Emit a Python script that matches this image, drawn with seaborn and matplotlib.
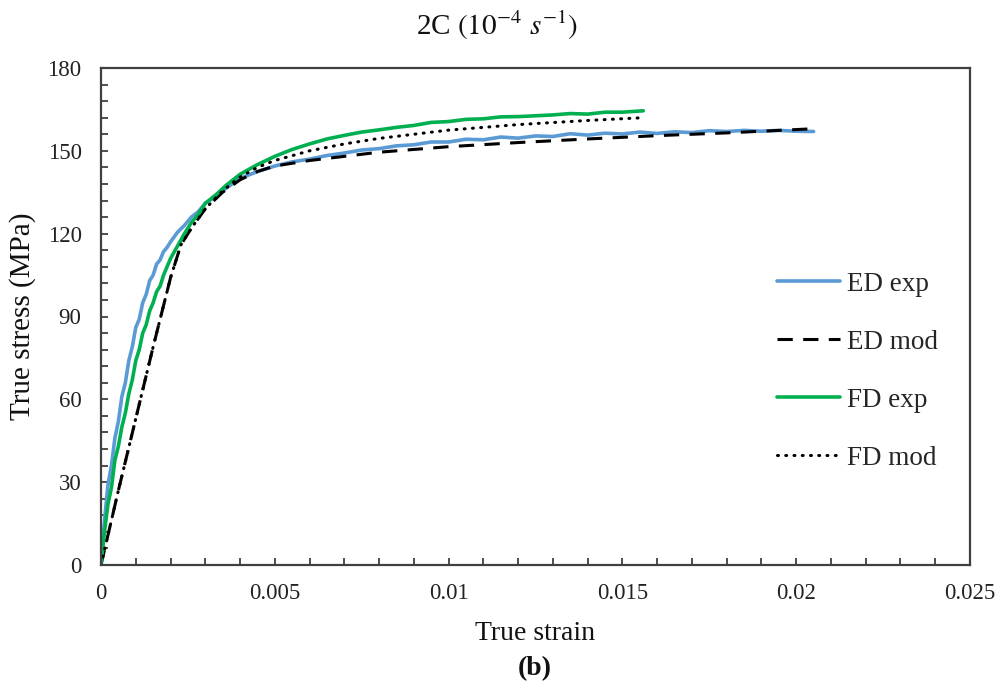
import numpy as np
import pandas as pd
import matplotlib
matplotlib.use("Agg")
import matplotlib.pyplot as plt
from matplotlib.ticker import MultipleLocator, FuncFormatter
import seaborn as sns

# ---------------- data ----------------
ed_exp_x = [0, 0.0001, 0.0002, 0.0003, 0.0004, 0.0005, 0.0006, 0.0007, 0.0008, 0.0009,
            0.001, 0.0011, 0.0012, 0.0013, 0.0014, 0.0015, 0.0016, 0.0017, 0.0018, 0.0019,
            0.002, 0.0022, 0.0024, 0.0026, 0.0028, 0.003, 0.0033, 0.0036, 0.004, 0.0045,
            0.005, 0.0055, 0.006, 0.0065, 0.007, 0.0075, 0.008, 0.0085, 0.009, 0.0095,
            0.010, 0.0105, 0.011, 0.0115, 0.012, 0.0125, 0.013, 0.0135, 0.014, 0.0145,
            0.015, 0.0155, 0.016, 0.0165, 0.017, 0.0175, 0.018, 0.0185, 0.019, 0.0195,
            0.020, 0.0205]
ed_exp_y = [0, 16, 29, 36, 46, 52, 61, 66, 74, 79,
            86, 89, 95, 98, 103, 105, 109, 110.5, 113.5, 115,
            117, 120.5, 123, 126, 128, 131, 133.5, 136.5, 140, 142.5,
            144.5, 146, 147, 148.3, 149.2, 150.3, 150.8, 151.8, 152.2, 153.2,
            153.2, 154.2, 154, 155, 154.6, 155.4, 155.2, 156.2, 155.7, 156.4,
            156.1, 156.8, 156.3, 156.9, 156.6, 157.3, 157, 157.4, 157.1, 157.4,
            157.1, 157]

fd_exp_x = [0, 0.0001, 0.0002, 0.0003, 0.0004, 0.0005, 0.0006, 0.0007, 0.0008, 0.0009,
            0.001, 0.0011, 0.0012, 0.0013, 0.0014, 0.0015, 0.0016, 0.0017, 0.0018, 0.0019,
            0.002, 0.0022, 0.0024, 0.0026, 0.0028, 0.003, 0.0033, 0.0036, 0.004, 0.0045,
            0.005, 0.0055, 0.006, 0.0065, 0.007, 0.0075, 0.008, 0.0085, 0.009, 0.0095,
            0.010, 0.0105, 0.011, 0.0115, 0.012, 0.0125, 0.013, 0.0135, 0.014, 0.0145,
            0.015, 0.0156]
fd_exp_y = [0, 12, 22, 28, 38, 43, 50, 55, 62, 67,
            74, 78, 84, 87, 92, 95, 99, 101, 105, 108,
            111, 115.5, 120, 124, 127, 131, 134, 137.5, 141.5, 145,
            148, 150.5, 152.5, 154.3, 155.6, 156.8, 157.6, 158.5, 159.2, 160.3,
            160.6, 161.4, 161.6, 162.3, 162.4, 162.7, 163, 163.5, 163.3, 164,
            164, 164.5]

ed_mod_x = [0, 0.0005, 0.001, 0.0015, 0.002, 0.0023, 0.0026, 0.003, 0.0035, 0.004,
            0.0045, 0.005, 0.006, 0.007, 0.008, 0.009, 0.010, 0.012, 0.014, 0.016,
            0.018, 0.0205]
ed_mod_y = [0, 27, 53, 79, 104, 116, 122, 129, 135, 139.5,
            142.5, 144.5, 146.5, 148, 149.5, 150.5, 151.5, 153, 154.3, 155.5,
            156.5, 158]

fd_mod_x = [0, 0.0005, 0.001, 0.0015, 0.002, 0.0023, 0.0026, 0.003, 0.0035, 0.004,
            0.0045, 0.005, 0.006, 0.007, 0.008, 0.009, 0.010, 0.012, 0.014, 0.0156]
fd_mod_y = [0, 27, 53, 79, 104, 116, 122, 129, 135.5, 140.5,
            144, 146.5, 150, 152.5, 154.5, 156, 157.5, 159.5, 161, 162]

series_names = ["ED exp", "ED mod", "FD exp", "FD mod"]
x_ticks = [0, 0.005, 0.01, 0.015, 0.02, 0.025]
y_ticks = [0, 30, 60, 90, 120, 150, 180]

# ---------------- style ----------------
sns.set_theme(style="ticks")
plt.rcParams["font.family"] = ["Liberation Serif", "DejaVu Serif"]
plt.rcParams["mathtext.fontset"] = "stix"

W, H = 1001, 685
L, R, T, B = 101, 970, 68, 565
fig = plt.figure(figsize=(W / 100, H / 100), dpi=100)
ax = fig.add_axes([L / W, 1 - B / H, (R - L) / W, (B - T) / H])

sns.lineplot(x=ed_exp_x, y=ed_exp_y, ax=ax, color="#5b9bd5", lw=2.6, sort=False,
             label=series_names[0])
sns.lineplot(x=ed_mod_x, y=ed_mod_y, ax=ax, color="black", lw=2.2, sort=False,
             label=series_names[1])
sns.lineplot(x=fd_exp_x, y=fd_exp_y, ax=ax, color="#00b050", lw=2.6, sort=False,
             label=series_names[2])
sns.lineplot(x=fd_mod_x, y=fd_mod_y, ax=ax, color="black", lw=2.2, sort=False,
             label=series_names[3])
lines = ax.get_lines()
lines[1].set_dashes([5, 3.4])
lines[3].set_dashes([0.3, 2.4])
lines[3].set_dash_capstyle("round")

ax.set_xlim(0, 0.025)
ax.set_ylim(0, 180)
ax.set_xticks(x_ticks)
ax.set_yticks(y_ticks)
ax.xaxis.set_minor_locator(MultipleLocator(0.001))
ax.yaxis.set_minor_locator(MultipleLocator(6))
ax.xaxis.set_major_formatter(FuncFormatter(lambda v, p: "0" if v == 0 else ("%g" % v)))
ax.tick_params(which="both", direction="in", length=5, width=1.3, color="#404040",
               labelsize=16.5, labelcolor="#222222")
ax.tick_params(axis="x", which="both", pad=13)
ax.tick_params(axis="y", which="both", pad=14)
for s in ax.spines.values():
    s.set_color("#404040")
    s.set_linewidth(1.6)

ax.set_xlabel("True strain", fontsize=20, color="#111111")
ax.set_ylabel("True stress (MPa)", fontsize=21, color="#111111")
ax.xaxis.label.set_va("center")
ax.yaxis.label.set_va("center")
ax.xaxis.set_label_coords(0.5, -(633 - B) / (B - T))
ax.yaxis.set_label_coords(-(L - 23) / (R - L), 0.5)

fig.text(497 / W, 1 - 25 / H, r"2C $(10^{-4}\ s^{-1})$", ha="center", va="center",
         fontsize=21, color="#111111")
fig.text(535 / W, 1 - 669 / H, "(b)", ha="center", va="center", fontsize=20,
         fontweight="bold", color="#111111")

ax.legend(loc="upper left", bbox_to_anchor=((766 - L) / (R - L), (565 - 261) / (B - T)),
          borderaxespad=0, frameon=False, fontsize=19.5,
          handlelength=2.33, handletextpad=0.26, labelspacing=1.22)

fig.savefig("out.png", dpi=100)
